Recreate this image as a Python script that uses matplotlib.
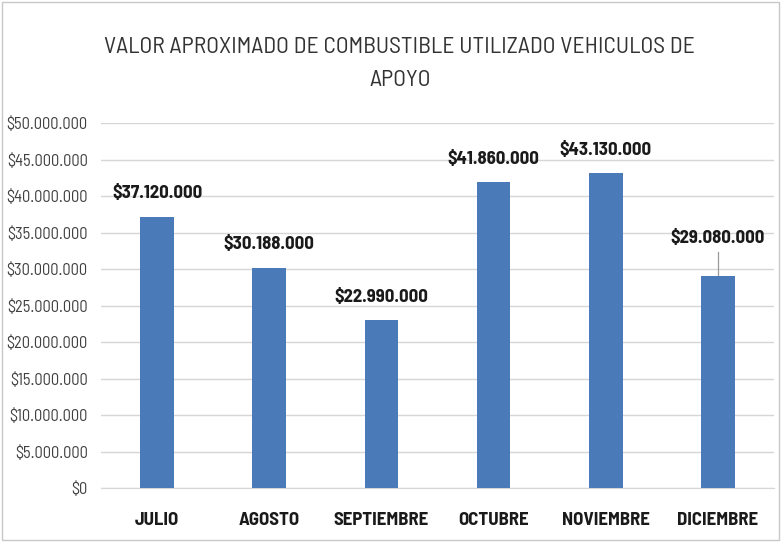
import matplotlib.pyplot as plt
from matplotlib.patches import Rectangle
from matplotlib.ticker import FuncFormatter

months = ["JULIO", "AGOSTO", "SEPTIEMBRE", "OCTUBRE", "NOVIEMBRE", "DICIEMBRE"]
values = [37120000, 30188000, 22990000, 41860000, 43130000, 29080000]
y_ticks = list(range(0, 50000001, 5000000))

plt.rcParams["font.family"] = ["Barlow Semi Condensed", "Liberation Sans", "DejaVu Sans"]


def money(v, pos=None):
    return "$" + f"{int(v):,}".replace(",", ".")


fig = plt.figure(figsize=(7.81, 5.42), dpi=100)
ax = fig.add_axes([0.1293, 0.0996, 0.8617, 0.6734])

x = range(len(months))
bar_color = "#4a7ab8"
ax.bar(x, values, width=0.3, color=bar_color, zorder=3)

ax.set_xlim(-0.5, len(months) - 0.5)
ax.set_ylim(0, 50000000)
ax.set_yticks(y_ticks)
ax.yaxis.set_major_formatter(FuncFormatter(money))
ax.set_xticks(list(x))
ax.set_xticklabels(months, fontsize=13.5, fontweight="bold", color="#1a1a1a")
ax.tick_params(axis="y", labelsize=11.8, labelcolor="#404040", length=0, pad=9.5)
ax.tick_params(axis="x", length=0, pad=17)
ax.grid(axis="y", color="#d6d6d6", linewidth=1, zorder=0)
for side in ["top", "right", "left"]:
    ax.spines[side].set_visible(False)
ax.spines["bottom"].set_color("#d6d6d6")

# value labels; the last one sits higher with a leader line
offsets = [2.0e6, 2.0e6, 2.0e6, 2.0e6, 2.0e6, 4.0e6]
for i, (v, off) in enumerate(zip(values, offsets)):
    ax.text(i, v + off, money(v), ha="center", va="bottom", fontsize=13.5,
            fontweight="bold", color="#1a1a1a")
    if off > 3e6:
        ax.plot([i, i], [v, v + off - 0.8e6], color="#999999", linewidth=0.9, zorder=2)

fig.text(0.512, 0.913, "VALOR APROXIMADO DE COMBUSTIBLE UTILIZADO VEHICULOS DE",
         ha="center", va="center", fontsize=17, color="#333333")
fig.text(0.512, 0.852, "APOYO", ha="center", va="center", fontsize=17, color="#333333")

fig.patches.append(Rectangle((0.003, 0.004), 0.994, 0.992, transform=fig.transFigure,
                             fill=False, edgecolor="#c8c8c8", linewidth=1))

fig.savefig("out.png", dpi=100)
